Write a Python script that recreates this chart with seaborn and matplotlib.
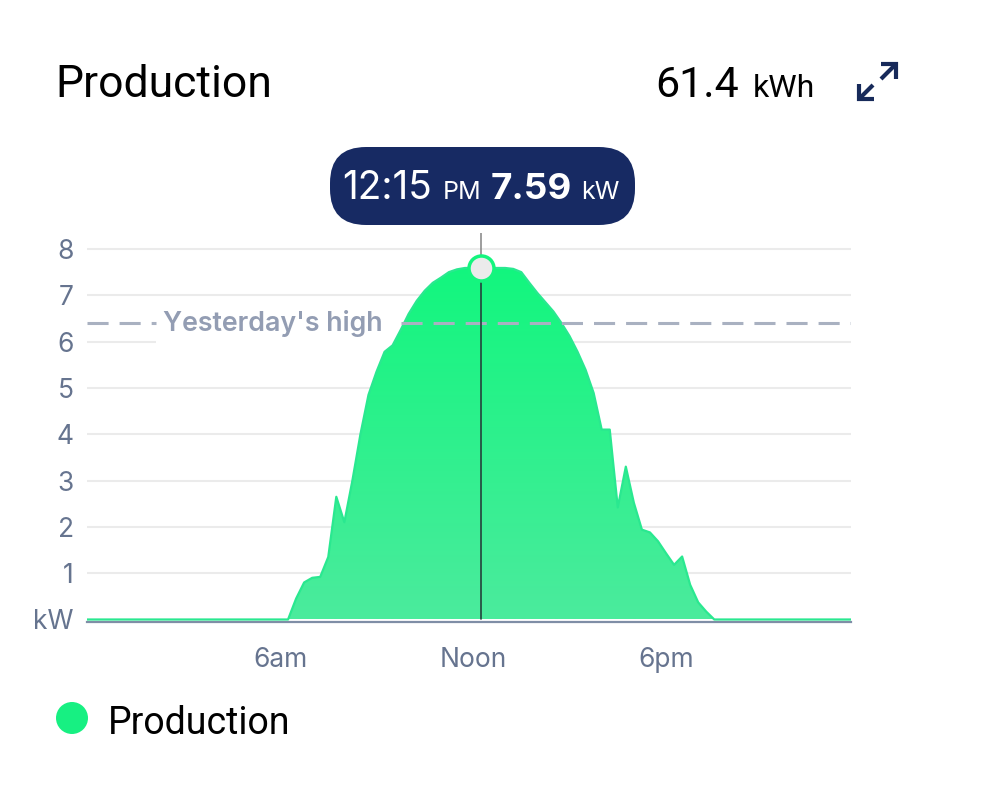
import numpy as np
import matplotlib
matplotlib.use("Agg")
import matplotlib.pyplot as plt
import seaborn as sns
from matplotlib.patches import FancyBboxPatch, Circle, Rectangle, PathPatch
from matplotlib.lines import Line2D
from matplotlib.colors import to_rgb

# ---------------- data ----------------
interval_hours = 0.25  # 15-minute readings, 00:00 .. 23:45
kw = [
    0, 0, 0, 0, 0, 0, 0, 0, 0, 0, 0, 0,            # 00:00 - 02:45
    0, 0, 0, 0, 0, 0, 0, 0, 0, 0, 0, 0,            # 03:00 - 05:45
    0, 0, 0.45, 0.8, 0.9, 0.92, 1.35, 2.65,        # 06:00 - 07:45
    2.1, 3.0, 4.0, 4.85, 5.35, 5.78, 5.92, 6.25,   # 08:00 - 09:45
    6.6, 6.88, 7.1, 7.27, 7.38, 7.5, 7.56, 7.59,   # 10:00 - 11:45
    7.59, 7.59, 7.59, 7.59, 7.59, 7.57, 7.5, 7.27, # 12:00 - 13:45
    7.05, 6.85, 6.65, 6.4, 6.12, 5.78, 5.39, 4.89, # 14:00 - 15:45
    4.1, 4.1, 2.42, 3.3, 2.52, 1.94, 1.88, 1.69,   # 16:00 - 17:45
    1.43, 1.18, 1.36, 0.75, 0.37, 0.17, 0, 0,      # 18:00 - 19:45
    0, 0, 0, 0, 0, 0, 0, 0,                        # 20:00 - 21:45
    0, 0, 0, 0, 0, 0, 0, 0,                        # 22:00 - 23:45
]
hours = np.arange(len(kw)) * interval_hours

title = "Production"
total_value = "61.4"
total_unit = "kWh"
legend_label = "Production"
yesterday_high = 6.4
yesterday_label = "Yesterday's high"
sel_hour = 12.25
sel_time = "12:15"
sel_ampm = "PM"
sel_value = 7.59
sel_unit = "kW"
x_ticks = [6, 12, 18]
x_labels = ["6am", "Noon", "6pm"]
y_ticks = [0, 1, 2, 3, 4, 5, 6, 7, 8]
y_labels = ["kW", "1", "2", "3", "4", "5", "6", "7", "8"]

# ---------------- style ----------------
sns.set_theme(style="white")
plt.rcParams["font.family"] = ["Inter", "DejaVu Sans"]

W, H = 1000, 795
fig = plt.figure(figsize=(W / 100, H / 100), dpi=100)
fig.patch.set_facecolor("white")

ax_left, ax_right, ax_top, ax_bottom = 87, 851, 233, 622
ax = fig.add_axes([ax_left / W, 1 - ax_bottom / H,
                   (ax_right - ax_left) / W, (ax_bottom - ax_top) / H])
ax.set_facecolor("white")

XMAX = hours[-1]
YMIN, YMAX = -0.054, 8.345

# grid lines
for yv in y_ticks[1:]:
    ax.axhline(yv, color="#ebebeb", lw=1.5, zorder=0.5)

# yesterday's high: dashed line, label on a white box
tick_col = "#66748f"
dash = (0, (6.9, 3.6))
ax.plot([0, 2.13], [yesterday_high, yesterday_high], color="#a9b1c1",
        lw=2.2, ls=dash, zorder=3.5)
ax.plot([9.76, XMAX], [yesterday_high, yesterday_high], color="#a9b1c1",
        lw=2.2, ls=dash, zorder=3.5)
ax.add_patch(Rectangle((2.13, 5.93), 9.7 - 2.13, 0.94, facecolor="white",
                       edgecolor="none", zorder=1.5))
ax.text(2.36, 6.22, yesterday_label, color="#939db3", fontsize=19.3,
        fontweight="semibold", ha="left", va="baseline", zorder=1.6)

# gradient area
top_c = np.array(to_rgb("#12f67e"))
bot_c = np.array(to_rgb("#4beb9d"))
tt = np.linspace(0, 1, 256)[:, None]
grad = (top_c * (1 - tt) + bot_c * tt)[:, None, :]
im = ax.imshow(grad, extent=[0, XMAX, 0, max(kw)], origin="upper",
               aspect="auto", zorder=2, interpolation="bilinear")
poly = ax.fill_between(hours, kw, 0, color="none", lw=0)
clip = PathPatch(poly.get_paths()[0], transform=ax.transData,
                 facecolor="none", edgecolor="none")
ax.add_patch(clip)
im.set_clip_path(clip)

sns.lineplot(x=hours, y=kw, ax=ax, color="#2ae890", lw=1.6, zorder=3,
             legend=False)

# selection line & marker
ax.plot([sel_hour, sel_hour], [0, sel_value], color="#24423c", lw=1.2, zorder=4)
ax.plot([sel_hour, sel_hour], [sel_value, YMAX], color="#8c8c8c", lw=1.2,
        zorder=4)
ax.plot([sel_hour], [sel_value], "o", ms=18, mfc="#ebebeb", mec="#14f57e",
        mew=2.5, zorder=5, clip_on=False)

ax.set_xlim(0, XMAX)
ax.set_ylim(YMIN, YMAX)
ax.set_xticks(x_ticks)
ax.set_xticklabels(x_labels)
ax.set_yticks(y_ticks)
ax.set_yticklabels(y_labels)
ax.tick_params(axis="y", length=0, pad=9.5, labelsize=19, labelcolor=tick_col)
ax.tick_params(axis="x", length=0, pad=18, labelsize=19, labelcolor=tick_col)
for s in ["top", "right", "left"]:
    ax.spines[s].set_visible(False)
ax.spines["bottom"].set_color("#7f8ea6")
ax.spines["bottom"].set_linewidth(1.6)
ax.spines["bottom"].set_zorder(2.5)
ax.grid(False)

# ---------------- header / tooltip / legend in pixel space ----------------
T = fig.dpi_scale_trans


def P(x, y):
    return (x / 100, (H - y) / 100)


hdr_font = ["Roboto", "DejaVu Sans"]
fig.text(*P(55, 97), title, transform=T, fontsize=32, color="#000000",
         ha="left", va="baseline", family=hdr_font)
fig.text(*P(697, 97), total_value, transform=T, fontsize=31, color="#000000",
         ha="center", va="baseline", family=hdr_font)
fig.text(*P(784, 97), total_unit, transform=T, fontsize=23, color="#000000",
         ha="center", va="baseline", family=hdr_font)

# expand icon
icon_col = "#172a5a"
icon_lines = [
    [(881, 64), (896, 64), (896, 79)],
    [(895, 65), (881, 79)],
    [(859, 84), (859, 99), (874, 99)],
    [(860, 98), (873, 85)],
]
for seg in icon_lines:
    xs = [P(x, y)[0] for x, y in seg]
    ys = [P(x, y)[1] for x, y in seg]
    fig.add_artist(Line2D(xs, ys, transform=T, color=icon_col, lw=3.0,
                          solid_capstyle="butt", solid_joinstyle="miter"))

# tooltip pill
x0, y0 = P(330, 225)
fig.add_artist(FancyBboxPatch((x0, y0), 3.05, 0.78, transform=T,
                              boxstyle="round,pad=0,rounding_size=0.36",
                              facecolor="#172a63", edgecolor="none"))
fig.text(*P(387, 199), sel_time, transform=T, fontsize=28, color="white",
         ha="center", va="baseline")
fig.text(*P(462, 199), sel_ampm, transform=T, fontsize=18, color="white",
         ha="center", va="baseline")
fig.text(*P(531, 199), f"{sel_value:.2f}", transform=T, fontsize=26.5,
         color="white", fontweight="bold", ha="center", va="baseline")
fig.text(*P(600, 199), sel_unit, transform=T, fontsize=18, color="white",
         ha="center", va="baseline")

# legend
fig.add_artist(Circle(P(72, 718), 0.16, transform=T, facecolor="#17f082",
                      edgecolor="none"))
fig.text(*P(108, 734), legend_label, transform=T, fontsize=27, color="#000000",
         ha="left", va="baseline", family=hdr_font)

fig.savefig("out.png", dpi=100, facecolor="white")
